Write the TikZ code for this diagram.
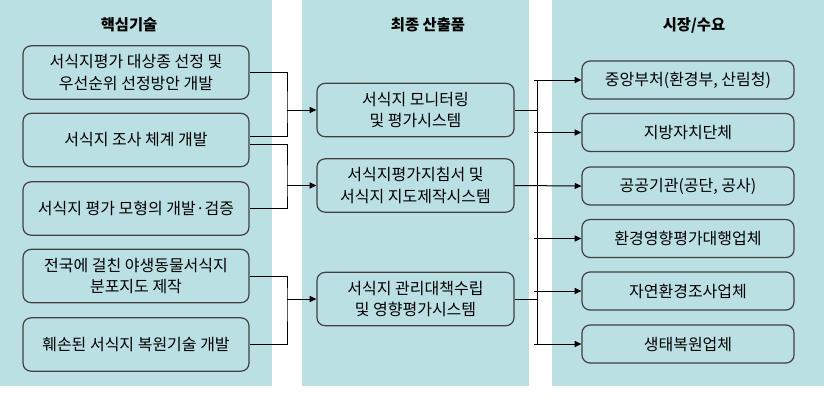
\documentclass[tikz,border=0pt]{standalone}
\usepackage{fontspec}
\setmainfont{Noto Sans CJK KR}
\usetikzlibrary{arrows.meta}
\definecolor{panelfill}{RGB}{187,224,227}
\definecolor{boxline}{RGB}{64,64,64}

\begin{document}
\begin{tikzpicture}[x=0.75pt,y=-0.75pt,
  panel/.style={fill=panelfill},
  title/.style={font=\bfseries\fontsize{11.5}{14}\selectfont},
  tbox/.style={draw=boxline,fill=panelfill,rounded corners=6pt,line width=0.9pt,
    minimum height=40pt,align=center,font=\fontsize{12}{16}\selectfont},
  mbox/.style={tbox,minimum width=147.75pt},
  sbox/.style={tbox,minimum width=159pt,minimum height=28.5pt},
  lbox/.style={tbox,minimum width=169.5pt},
  wire/.style={line width=0.75pt},
  arr/.style={wire,-{Triangle[length=5pt,width=4.5pt]}}]
  \useasboundingbox (0,0) rectangle (824,412);
  \fill[panel] (0,0) rectangle (272,386);
  \fill[panel] (302,0) rectangle (529,386);
  \fill[panel] (552,0) rectangle (824,386);
  \draw(129,25) node[title] (H1) {핵심기술};
  \draw(428,25) node[title] (H2) {최종 산출품};
  \draw(694,25) node[title] (H3) {시장/수요};
  \draw(136,72.5) node[lbox] (B1) {서식지평가 대상종 선정 및\\우선순위 선정방안 개발};
  \draw(136,140) node[lbox] (B2) {서식지 조사 체계 개발};
  \draw(136,208.5) node[lbox] (B3) {서식지 평가 모형의 개발·검증};
  \draw(136,276) node[lbox] (B4) {전국에 걸친 야생동물서식지\\분포지도 제작};
  \draw(136,344.5) node[lbox] (B5) {훼손된 서식지 복원기술 개발};
  \draw(415.5,110) node[mbox] (M1) {서식지 모니터링\\및 평가시스템};
  \draw(415.5,185.5) node[mbox] (M2) {서식지평가지침서 및\\서식지 지도제작시스템};
  \draw(415.5,299) node[mbox] (M3) {서식지 관리대책수립\\및 영향평가시스템};
  \draw(688,80) node[sbox] (R1) {중앙부처(환경부, 산림청)};
  \draw(688,132.5) node[sbox] (R2) {지방자치단체};
  \draw(688,186) node[sbox] (R3) {공공기관(공단, 공사)};
  \draw(688,238.5) node[sbox] (R4) {환경영향평가대행업체};
  \draw(688,291) node[sbox] (R5) {자연환경조사업체};
  \draw(688,344) node[sbox] (R6) {생태복원업체};
  \coordinate (J1) at (287,110);
  \coordinate (J2) at (287,185.5);
  \coordinate (J3) at (287,299);
  \coordinate (K) at (537,0);
  \draw[wire] (B1.east) -| (J1) |- ([yshift=3pt]B2.east);
  \draw[wire] ([yshift=-3pt]B2.east) -| (J2) |- (B3.east);
  \draw[wire] (B4.east) -| (J3) |- (B5.east);
  \draw[arr] (J1) -- (M1.west);
  \draw[arr] (J2) -- (M2.west);
  \draw[arr] (J3) -- (M3.west);
  \draw[wire] (M1.east) -- (M1.east -| K);
  \draw[wire] (M3.east) -- (M3.east -| K);
  \draw[wire] (R1.west -| K) -- (R6.west -| K);
  \draw[arr] (M2.east) -- (R3.west);
  \foreach \r in {R1,R2,R4,R5,R6}
    \draw[arr] ([xshift=-2pt]\r.west -| K) -- (\r.west);
\end{tikzpicture}
\end{document}
